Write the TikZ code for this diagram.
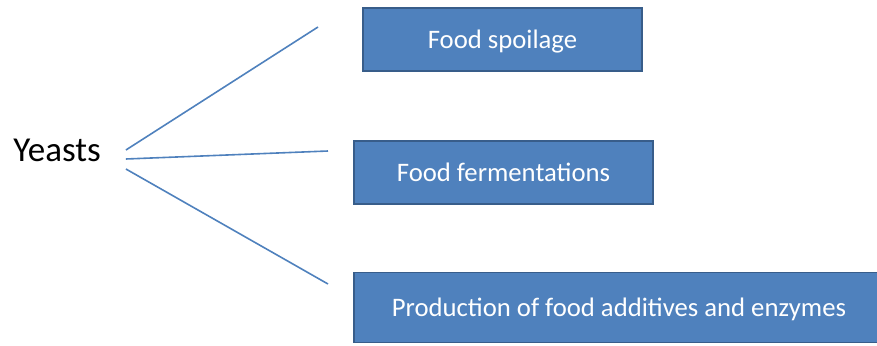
\documentclass[tikz,border=0pt]{standalone}
\usepackage{fontspec}
\setmainfont{Carlito}
\usetikzlibrary{positioning}
\definecolor{boxblue}{HTML}{4F81BD}
\definecolor{boxedge}{HTML}{385D8A}
\tikzset{
    box style/.style={draw=boxedge, line width=1.5pt, fill=boxblue, text=white, minimum height=63pt, text depth=0pt, font=\fontsize{26.7}{32}\selectfont},
    link style/.style={draw=boxblue, line width=1.6pt},
}

\begin{document}
\begin{tikzpicture}[x=1pt, y=-1pt]
        \useasboundingbox (0,0) rectangle (877,345);
        \node (yeasts) [inner xsep=25pt, font=\fontsize{35}{40}\selectfont] at (57,150) {Yeasts};
        \node (spoilage) [box style, minimum width=279pt] at (502.5,39.5) {Food spoilage};
        \node (ferment) [box style, minimum width=299pt] at (503.5,172.5) {Food fermentations};
        \node (additives) [box style, minimum width=530pt, minimum height=70pt] at (619,307.5) {Production of food additives and enzymes};

        % free line ends
        \coordinate (end1) at (318,27);
        \coordinate (end2) at (328,151);
        \coordinate (end3) at (328,284);

        \draw [link style] (yeasts.east) -- (end1);
        \draw [link style] ([yshift=-9pt]yeasts.east) -- (end2);
        \draw [link style] ([yshift=-19pt]yeasts.east) -- (end3);
    \end{tikzpicture}
\end{document}
